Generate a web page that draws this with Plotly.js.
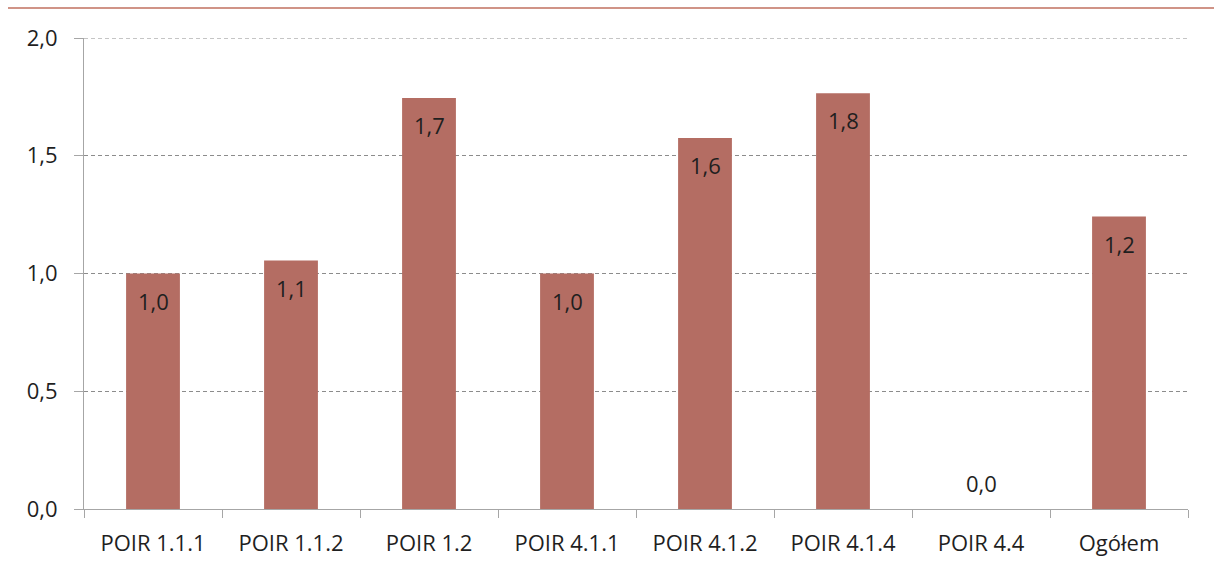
<!DOCTYPE html>
<html>
<head>
<meta charset="utf-8">
<script src="https://cdn.plot.ly/plotly-3.0.1.min.js"></script>
<style>html,body{margin:0;padding:0;background:#fff;}#chart{width:1214px;height:571px;}</style>
</head>
<body>
<div id="chart"></div>
<script>
const categories = ["POIR 1.1.1", "POIR 1.1.2", "POIR 1.2", "POIR 4.1.1", "POIR 4.1.2", "POIR 4.1.4", "POIR 4.4", "Ogółem"];
const values = [1.0, 1.055, 1.745, 1.0, 1.575, 1.765, 0.0, 1.242];
const yTicks = [0, 0.5, 1.0, 1.5, 2.0];
const yTickLabels = ["0,0", "0,5", "1,0", "1,5", "2,0"];

const fmt = v => v.toFixed(1).replace('.', ',');
const FONT = "Open Sans, Lato, sans-serif";
const TXT = "#1f1f1f";
const W = 400;

const annotations = categories.map((c, i) => {
  const v = values[i];
  const inside = v > 0.15;
  return {
    x: c, y: v, xref: 'x', yref: 'y',
    text: fmt(v), showarrow: false,
    yanchor: 'middle',
    yshift: inside ? -27 : 26,
    font: {family: FONT, size: 22, color: TXT, weight: W}
  };
});

const trace = {
  type: 'bar',
  x: categories,
  y: values,
  marker: {color: '#B46D63', line: {width: 0}},
  hoverinfo: 'x+y'
};

const gridTop = yTicks[yTicks.length - 1];

const layout = {
  width: 1214, height: 571,
  margin: {l: 84, r: 26, t: 38, b: 62},
  paper_bgcolor: '#ffffff', plot_bgcolor: '#ffffff',
  bargap: 0.61,
  showlegend: false,
  font: {family: FONT, size: 22, color: TXT, weight: W},
  xaxis: {
    type: 'category',
    showline: true, linecolor: '#a6a6a6', linewidth: 1,
    ticks: 'outside', tickson: 'boundaries', ticklen: 8, tickcolor: '#a6a6a6',
    tickfont: {family: FONT, size: 22, color: TXT, weight: W},
    ticklabelstandoff: 15,
    showgrid: false, zeroline: false,
    range: [-0.5, categories.length - 0.5]
  },
  yaxis: {
    range: [0, 2.0],
    tickmode: 'array', tickvals: yTicks, ticktext: yTickLabels,
    showline: true, linecolor: '#a6a6a6', linewidth: 1,
    ticks: 'outside', ticklen: 9, tickcolor: '#a6a6a6',
    tickfont: {family: FONT, size: 22, color: TXT, weight: W},
    ticklabelstandoff: 12,
    showgrid: true, gridcolor: '#8c8c8c', griddash: '4px,3px', gridwidth: 1,
    zeroline: false
  },
  shapes: [{
    type: 'line', xref: 'paper', yref: 'paper',
    x0: (8 - 84) / 1104, x1: (1214 - 84) / 1104,
    y0: (509 - 8) / 471, y1: (509 - 8) / 471,
    line: {color: '#C0705F', width: 1.5}
  }, {
    type: 'line', xref: 'paper', yref: 'y',
    x0: 0, x1: 1, y0: gridTop, y1: gridTop,
    line: {color: '#8c8c8c', width: 1, dash: '4px,3px'}
  }],
  annotations: annotations
};

Plotly.newPlot('chart', [trace], layout, {displayModeBar: false, staticPlot: true});
</script>
</body>
</html>
